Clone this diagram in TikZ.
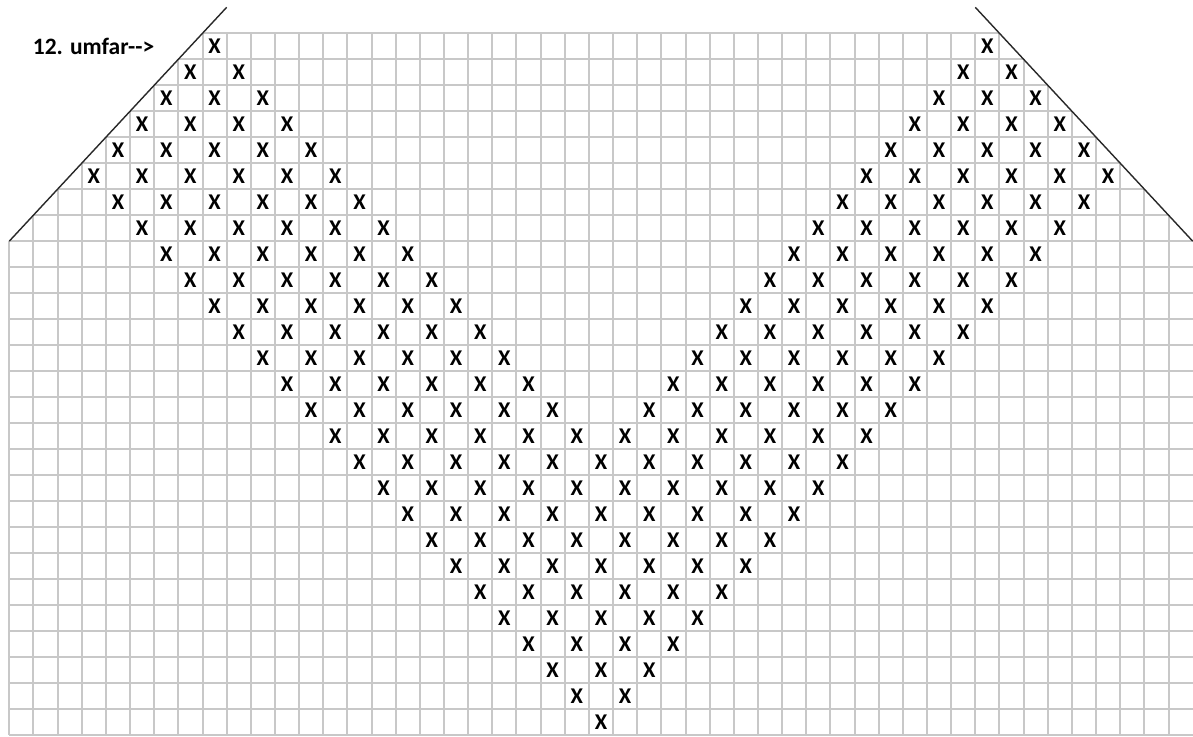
\documentclass[tikz,border=0pt]{standalone}
\usepackage{fontspec}
\setmainfont{Carlito}[Ligatures=TeXOff]
\definecolor{gridgray}{RGB}{200,200,200}
\definecolor{diaggray}{RGB}{40,40,40}
\begin{document}
\begin{tikzpicture}[
  gridline/.style={draw=gridgray, line width=2pt},
  diagline/.style={draw=diaggray, line width=1.4pt},
  xmark/.style={font=\fontsize{22.5}{22.5}\selectfont\bfseries, inner sep=0pt, text=black},
  lbl/.style={font=\fontsize{23.5}{23.5}\selectfont\bfseries, inner sep=0pt, anchor=base west, text=black}
]
\useasboundingbox (0,0) rectangle (1193pt,-736pt);
\fill[white] (0,0) rectangle (1193pt,-736pt);
\begin{scope}[shift={(9.3pt,-33.3pt)}, x=24.15pt, y=-25.98pt]
  % horizontal grid lines
  \foreach \r in {0,...,27}{
    \pgfmathsetmacro{\xs}{\r<8 ? 8-\r : 0}
    \pgfmathsetmacro{\xe}{\r<8 ? 41+\r : 49}
    \draw[gridline] (\xs,\r) -- (\xe,\r);
  }
  % vertical grid lines
  \foreach \c in {0,...,48}{
    \pgfmathsetmacro{\ys}{\c<8 ? 8-\c : (\c>41 ? \c-41 : 0)}
    \draw[gridline] (\c,\ys) -- (\c,27);
  }
  % diagonal cut lines
  \coordinate (dl1) at (0,8);
  \coordinate (dl2) at (9,-1);
  \coordinate (dr1) at (49,8);
  \coordinate (dr2) at (40,-1);
  \draw[diagline] (dl1) -- (dl2);
  \draw[diagline] (dr1) -- (dr2);
  % X marks
  \foreach \r in {0,...,26}{
    \pgfmathtruncatemacro{\a}{\r<=5 ? 8-\r : \r-2}
    \pgfmathtruncatemacro{\b}{\r<=5 ? 8+\r : \r+8}
    \pgfmathtruncatemacro{\n}{(min(\b,24)-\a)/2}
    \foreach \k in {0,...,\n}{
      \pgfmathtruncatemacro{\c}{\a+2*\k}
      \node[xmark] (x\r-\c) at (\c+0.5,\r+0.5) {X};
      \ifnum\c<24
        \pgfmathtruncatemacro{\m}{48-\c}
        \node[xmark] (x\r-\m) at (\m+0.5,\r+0.5) {X};
      \fi
    }
  }
\end{scope}
\node[lbl] (title) at (32.7pt,-54.3pt) {12. umfar-->};
\end{tikzpicture}
\end{document}
